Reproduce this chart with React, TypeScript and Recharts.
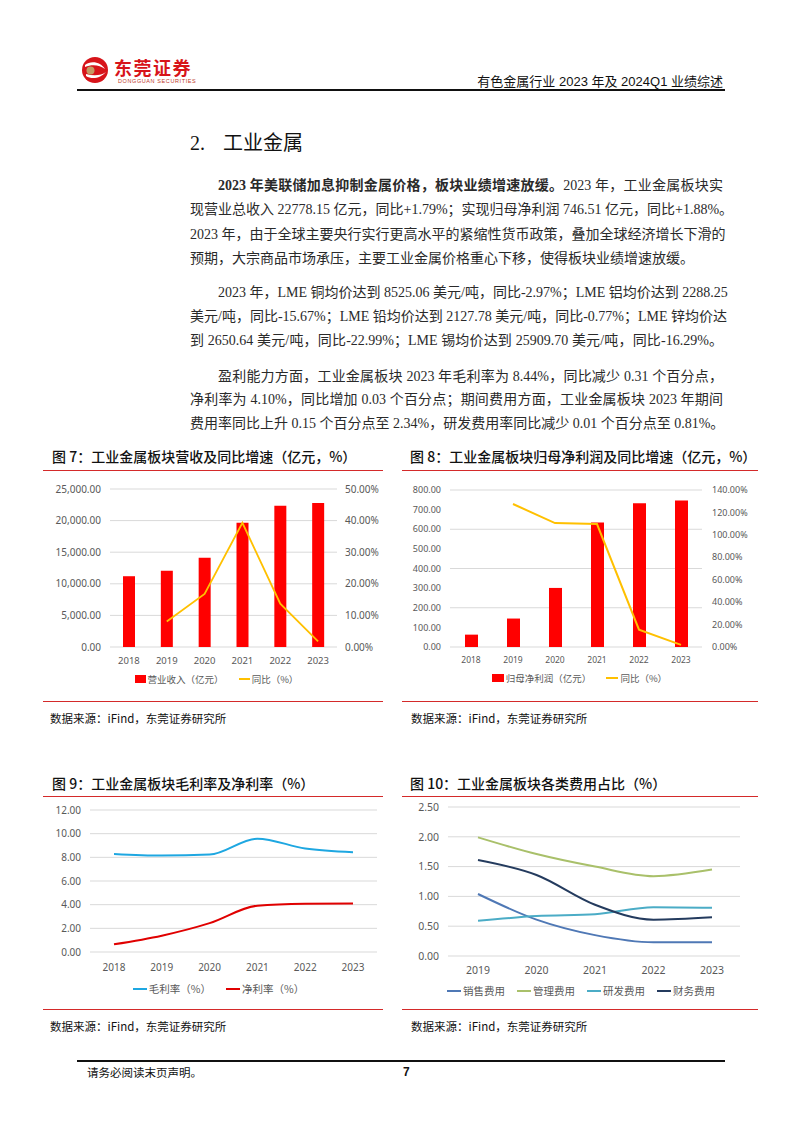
import React from "react";
import {
  ComposedChart,
  LineChart,
  Bar,
  Line,
  XAxis,
  YAxis,
  CartesianGrid,
  Legend,
} from "recharts";

// ---- data ----
const years = ["2018", "2019", "2020", "2021", "2022", "2023"];
const revenue = [11200, 12050, 14110, 19660, 22360, 22778.15];
const revenueYoy = [null, 8.1, 16.8, 39.3, 13.7, 1.79];
const profit = [63, 145, 301, 635, 733, 746.51];
const profitYoy = [null, 127.5, 110.5, 109.6, 15.5, 1.88];
const grossMargin = [8.29, 8.15, 8.23, 9.58, 8.75, 8.44];
const netMargin = [0.65, 1.38, 2.44, 3.91, 4.07, 4.1];

const feeYears = ["2019", "2020", "2021", "2022", "2023"];
const salesFee = [1.04, 0.61, 0.35, 0.23, 0.23];
const adminFee = [1.99, 1.71, 1.5, 1.34, 1.45];
const rdFee = [0.59, 0.67, 0.7, 0.82, 0.81];
const financeFee = [1.61, 1.36, 0.86, 0.61, 0.65];

const revenueTicks = [0, 5000, 10000, 15000, 20000, 25000];
const revenueYoyTicks = [0, 10, 20, 30, 40, 50];
const profitTicks = [0, 100, 200, 300, 400, 500, 600, 700, 800];
const profitYoyTicks = [0, 20, 40, 60, 80, 100, 120, 140];
const marginTicks = [0, 2, 4, 6, 8, 10, 12];
const feeTicks = [0, 0.5, 1, 1.5, 2, 2.5];

const revenueRows = years.map((year, i) => ({ year, revenue: revenue[i], yoy: revenueYoy[i] }));
const profitRows = years.map((year, i) => ({ year, profit: profit[i], yoy: profitYoy[i] }));
const marginRows = years.map((year, i) => ({ year, gross: grossMargin[i], net: netMargin[i] }));
const feeRows = feeYears.map((year, i) => ({
  year,
  sales: salesFee[i],
  admin: adminFee[i],
  rd: rdFee[i],
  finance: financeFee[i],
}));

// ---- styles ----
const SANS = '"Noto Sans", "Noto Sans CJK SC", sans-serif';
const CJK = '"Noto Sans CJK SC", sans-serif';
const HEAD = '"Liberation Sans", "Noto Sans CJK SC", sans-serif';
const SERIF = '"Liberation Serif", "Noto Sans CJK SC", serif';
const TICK = "#595959";
const GRID = "#d9d9d9";
const RULE = "#d42a2a";

const fmtThousands = (v: number) =>
  v.toLocaleString("en-US", { minimumFractionDigits: 2, maximumFractionDigits: 2 });
const fmt2 = (v: number) => v.toFixed(2);
const fmtPct = (v: number) => `${v.toFixed(2)}%`;

// legend keeps series order (recharts sorts by name otherwise)
const legendContent =
  (fontSize: number, gap: number, iconW: number, order: string[]) =>
  // eslint-disable-next-line @typescript-eslint/no-explicit-any
  (props: any) => {
    // eslint-disable-next-line @typescript-eslint/no-explicit-any
    const payload = [...(props.payload ?? [])].sort(
      (a: any, b: any) => order.indexOf(a.value) - order.indexOf(b.value)
    );
    return (
      <div
        style={{
          display: "flex",
          justifyContent: "center",
          alignItems: "center",
          gap,
          fontSize,
          lineHeight: "14px",
          height: 14,
          color: TICK,
          fontFamily: CJK,
          whiteSpace: "nowrap",
        }}
      >
        {/* eslint-disable-next-line @typescript-eslint/no-explicit-any */}
        {payload.map((p: any) => (
          <span key={p.value} style={{ display: "inline-flex", alignItems: "center" }}>
            <span
              style={{
                display: "inline-block",
                width: iconW,
                height: p.type === "rect" ? 8 : 2,
                background: p.color,
                marginRight: 2,
              }}
            />
            {p.value}
          </span>
        ))}
      </div>
    );
  };

const abs = (left: number, top: number): React.CSSProperties => ({
  position: "absolute",
  left,
  top,
});

const Rule = ({ left, top, width, color = RULE, h = 1 }: { left: number; top: number; width: number; color?: string; h?: number }) => (
  <div style={{ ...abs(left, top), width, height: h, background: color }} />
);

const Title = ({ left, top, children }: { left: number; top: number; children: React.ReactNode }) => (
  <div style={{ ...abs(left, top), fontFamily: CJK, fontSize: 14, lineHeight: "20px", color: "#111", whiteSpace: "pre", fontWeight: 500 }}>
    {children}
  </div>
);

const Source = ({ left, top }: { left: number; top: number }) => (
  <div style={{ ...abs(left, top), fontFamily: CJK, fontSize: 11.5, lineHeight: "16px", color: "#111", whiteSpace: "nowrap" }}>
    数据来源：iFind，东莞证券研究所
  </div>
);

type LineSpec = { top: number; text: React.ReactNode; indent?: boolean; last?: boolean };

const paragraphLines: LineSpec[] = [
  {
    top: 186,
    indent: true,
    text: (
      <>
        <b>2023 年美联储加息抑制金属价格，板块业绩增速放缓。</b>2023 年，工业金属板块实
      </>
    ),
  },
  { top: 210, text: "现营业总收入 22778.15 亿元，同比+1.79%；实现归母净利润 746.51 亿元，同比+1.88%。" },
  { top: 234.5, text: "2023 年，由于全球主要央行实行更高水平的紧缩性货币政策，叠加全球经济增长下滑的" },
  { top: 259, last: true, text: "预期，大宗商品市场承压，主要工业金属价格重心下移，使得板块业绩增速放缓。" },
  { top: 292.5, indent: true, text: "2023 年，LME 铜均价达到 8525.06 美元/吨，同比-2.97%；LME 铝均价达到 2288.25" },
  { top: 316.7, text: "美元/吨，同比-15.67%；LME 铅均价达到 2127.78 美元/吨，同比-0.77%；LME 锌均价达" },
  { top: 340.7, text: "到 2650.64 美元/吨，同比-22.99%；LME 锡均价达到 25909.70 美元/吨，同比-16.29%。" },
  { top: 376.5, indent: true, text: "盈利能力方面，工业金属板块 2023 年毛利率为 8.44%，同比减少 0.31 个百分点，" },
  { top: 400, text: "净利率为 4.10%，同比增加 0.03 个百分点；期间费用方面，工业金属板块 2023 年期间" },
  { top: 424, text: "费用率同比上升 0.15 个百分点至 2.34%，研发费用率同比减少 0.01 个百分点至 0.81%。" },
];

const axisTick = (fontSize: number) => ({ fontSize, fill: TICK, fontFamily: SANS });

export default function App() {
  return (
    <div style={{ position: "absolute", left: 0, top: 0, width: 802, height: 1133, background: "#fff", overflow: "hidden" }}>
      {/* header */}
      <svg style={abs(81, 56)} width={28} height={28} viewBox="0 0 28 28">
        <circle cx={14} cy={14} r={13} fill="#d7141a" />
        <path d="M4 9 C 10 4, 20 6, 24 13 C 19 9, 11 8, 4 11 Z" fill="#fff" />
        <path d="M5 20 C 11 24, 20 22, 25 16 C 20 20, 12 20, 5 18 Z" fill="#fff" />
        <circle cx={9.5} cy={14.5} r={4} fill="#c49a64" />
      </svg>
      <div style={{ ...abs(114, 56), fontFamily: CJK, fontWeight: 700, fontSize: 18, lineHeight: "22px", color: "#d7141a", letterSpacing: 1.5, whiteSpace: "nowrap" }}>
        东莞证券
      </div>
      <div style={{ ...abs(118, 78), fontFamily: HEAD, fontSize: 5.5, lineHeight: "7px", color: "#c0392b", letterSpacing: 0.6, whiteSpace: "nowrap" }}>
        DONGGUAN SECURITIES
      </div>
      <div style={{ position: "absolute", right: 79, top: 73, fontFamily: HEAD, fontSize: 13, lineHeight: "17px", color: "#111", whiteSpace: "nowrap" }}>
        有色金属行业 2023 年及 2024Q1 业绩综述
      </div>
      <Rule left={77} top={89} width={648} color="#111" h={2} />

      {/* section heading */}
      <div style={{ ...abs(190, 129), fontSize: 20, lineHeight: "26px", color: "#111", whiteSpace: "nowrap" }}>
        <span style={{ fontFamily: SERIF }}>2.</span>
        <span style={{ fontFamily: CJK, marginLeft: 18 }}>工业金属</span>
      </div>

      {/* body text */}
      {paragraphLines.map((ln, i) => (
        <div
          key={i}
          style={{
            ...abs(ln.indent ? 218 : 190, ln.top - 10),
            width: ln.indent ? 505 : 533,
            fontFamily: SERIF,
            fontSize: 14,
            lineHeight: "20px",
            color: "#2a2a2a",
            whiteSpace: "nowrap",
            textAlign: "justify",
            textAlignLast: ln.last ? "left" : "justify",
          }}
        >
          {ln.text}
        </div>
      ))}

      {/* figure 7 / 8 */}
      <Title left={52} top={446}>图 7：工业金属板块营收及同比增速（亿元，%）</Title>
      <Rule left={43} top={469.5} width={340} />
      <Title left={410} top={446}>图 8：工业金属板块归母净利润及同比增速（亿元，%）</Title>
      <Rule left={402} top={469.5} width={356} />

      <div style={abs(40, 470)}>
        <ComposedChart width={360} height={230} data={revenueRows} margin={{ top: 19, right: 0, bottom: 33, left: 0 }}>
          <CartesianGrid yAxisId="l" vertical={false} stroke={GRID} />
          <XAxis dataKey="year" axisLine={false} tickLine={false} tickSize={0} tickMargin={10} height={20} interval={0} tick={axisTick(9.5)} />
          <YAxis yAxisId="l" width={70} domain={[0, 25000]} ticks={revenueTicks} tickFormatter={fmtThousands} axisLine={false} tickLine={false} tickSize={0} tickMargin={9} tick={axisTick(10)} />
          <YAxis yAxisId="r" orientation="right" width={63} domain={[0, 50]} ticks={revenueYoyTicks} tickFormatter={fmtPct} axisLine={false} tickLine={false} tickSize={0} tickMargin={8} tick={axisTick(10)} />
          <Bar yAxisId="l" dataKey="revenue" name="营业收入（亿元）" fill="#ff0000" barSize={12} isAnimationActive={false} />
          <Line yAxisId="r" type="linear" dataKey="yoy" name="同比（%）" stroke="#ffc000" strokeWidth={1.8} dot={false} isAnimationActive={false} />
          <Legend verticalAlign="middle" align="center" layout="horizontal" wrapperStyle={{ top: 202, left: 0, width: 353 }} content={legendContent(9.5, 15, 11, ["营业收入（亿元）", "同比（%）"])} />
        </ComposedChart>
      </div>

      <div style={abs(400, 470)}>
        <ComposedChart width={360} height={230} data={profitRows} margin={{ top: 20, right: 0, bottom: 33, left: 0 }}>
          <CartesianGrid yAxisId="l" vertical={false} stroke={GRID} />
          <XAxis dataKey="year" axisLine={false} tickLine={false} tickSize={0} tickMargin={10} height={20} interval={0} tick={axisTick(8.5)} />
          <YAxis yAxisId="l" width={50} domain={[0, 800]} ticks={profitTicks} tickFormatter={fmt2} axisLine={false} tickLine={false} tickSize={0} tickMargin={9} tick={axisTick(9)} />
          <YAxis yAxisId="r" orientation="right" width={58} domain={[0, 140]} ticks={profitYoyTicks} tickFormatter={fmtPct} axisLine={false} tickLine={false} tickSize={0} tickMargin={10} tick={axisTick(9)} />
          <Bar yAxisId="l" dataKey="profit" name="归母净利润（亿元）" fill="#ff0000" barSize={13} isAnimationActive={false} />
          <Line yAxisId="r" type="linear" dataKey="yoy" name="同比（%）" stroke="#ffc000" strokeWidth={2} dot={false} isAnimationActive={false} />
          <Legend verticalAlign="middle" align="center" layout="horizontal" wrapperStyle={{ top: 201, left: 0, width: 359 }} content={legendContent(9.5, 15, 12, ["归母净利润（亿元）", "同比（%）"])} />
        </ComposedChart>
      </div>

      <Rule left={43} top={701} width={340} />
      <Rule left={402} top={701} width={356} />
      <Source left={50} top={710} />
      <Source left={411} top={710} />

      {/* figure 9 / 10 */}
      <Title left={52} top={773}>图 9：工业金属板块毛利率及净利率（%）</Title>
      <Rule left={43} top={795.5} width={340} />
      <Title left={410} top={773}>图 10：工业金属板块各类费用占比（%）</Title>
      <Rule left={402} top={795.5} width={356} />

      <div style={abs(40, 796)}>
        <LineChart width={360} height={214} data={marginRows} margin={{ top: 14, right: 23, bottom: 38, left: 0 }}>
          <CartesianGrid vertical={false} stroke={GRID} />
          <XAxis dataKey="year" axisLine={false} tickLine={false} tickSize={0} tickMargin={11.5} height={20} interval={0} padding={{ left: 24, right: 24 }} tick={axisTick(10)} />
          <YAxis width={50} domain={[0, 12]} ticks={marginTicks} tickFormatter={fmt2} axisLine={false} tickLine={false} tickSize={0} tickMargin={9} tick={axisTick(10)} />
          <Line type="monotone" dataKey="gross" name="毛利率（%）" stroke="#1ea7e1" strokeWidth={2} dot={false} isAnimationActive={false} />
          <Line type="monotone" dataKey="net" name="净利率（%）" stroke="#e00000" strokeWidth={2} dot={false} isAnimationActive={false} />
          <Legend verticalAlign="middle" align="center" layout="horizontal" wrapperStyle={{ top: 186, left: 0, width: 357 }} content={legendContent(10.5, 15, 14, ["毛利率（%）", "净利率（%）"])} />
        </LineChart>
      </div>

      <div style={abs(400, 796)}>
        <LineChart width={360} height={214} data={feeRows} margin={{ top: 11, right: 20, bottom: 34, left: 0 }}>
          <CartesianGrid vertical={false} stroke={GRID} />
          <XAxis dataKey="year" axisLine={false} tickLine={false} tickSize={0} tickMargin={11} height={20} interval={0} padding={{ left: 30, right: 28 }} tick={axisTick(10.5)} />
          <YAxis width={48} domain={[0, 2.5]} ticks={feeTicks} tickFormatter={fmt2} axisLine={false} tickLine={false} tickSize={0} tickMargin={9} tick={axisTick(10.5)} />
          <Line type="monotone" dataKey="sales" name="销售费用" stroke="#4f78b5" strokeWidth={2} dot={false} isAnimationActive={false} />
          <Line type="monotone" dataKey="admin" name="管理费用" stroke="#a9c06a" strokeWidth={2} dot={false} isAnimationActive={false} />
          <Line type="monotone" dataKey="rd" name="研发费用" stroke="#4bacc6" strokeWidth={2} dot={false} isAnimationActive={false} />
          <Line type="monotone" dataKey="finance" name="财务费用" stroke="#243b5e" strokeWidth={2} dot={false} isAnimationActive={false} />
          <Legend verticalAlign="middle" align="center" layout="horizontal" wrapperStyle={{ top: 188, left: 0, width: 362 }} content={legendContent(10.5, 12, 14, ["销售费用", "管理费用", "研发费用", "财务费用"])} />
        </LineChart>
      </div>

      <Rule left={43} top={1009} width={340} />
      <Rule left={402} top={1009} width={356} />
      <Source left={50} top={1018} />
      <Source left={411} top={1018} />

      {/* footer */}
      <Rule left={77} top={1060} width={648} color="#111" h={1.5} />
      <div style={{ ...abs(87, 1064), fontFamily: CJK, fontSize: 11.5, lineHeight: "16px", color: "#111", whiteSpace: "nowrap" }}>
        请务必阅读末页声明。
      </div>
      <div style={{ ...abs(403, 1064), fontFamily: HEAD, fontWeight: 700, fontSize: 12, lineHeight: "16px", color: "#111" }}>7</div>
    </div>
  );
}
